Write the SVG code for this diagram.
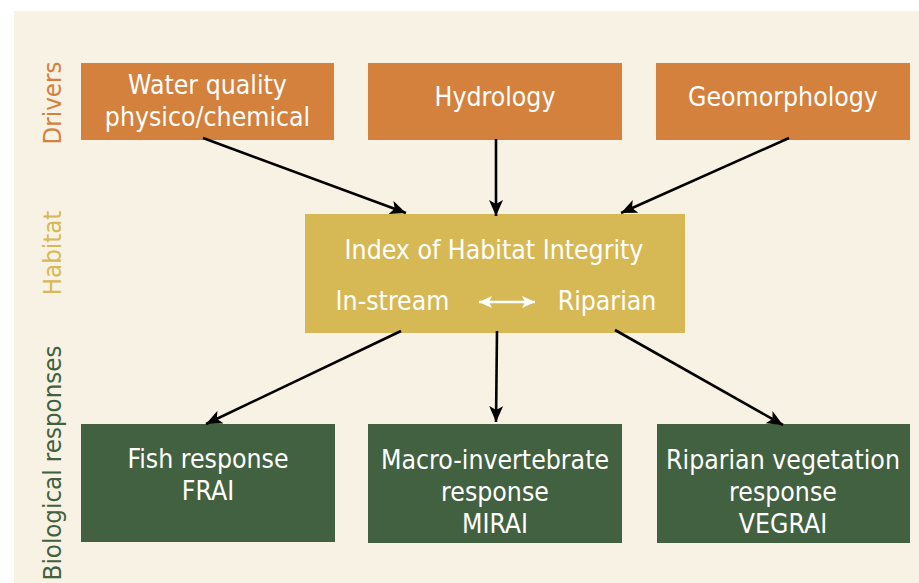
<svg xmlns="http://www.w3.org/2000/svg" width="919" height="583" viewBox="0 0 919 583">
<style>
.t{font-family:"DejaVu Sans Condensed","DejaVu Sans",sans-serif;font-stretch:condensed;font-size:26.4px;fill:#ffffff;text-anchor:middle}
.lab{font-family:"DejaVu Sans Condensed","DejaVu Sans",sans-serif;font-stretch:condensed;font-size:25.6px;text-anchor:middle}
.drv{fill:#d4813d}
.hab{fill:#d6b955}
.bio{fill:#426140}
.c{stroke:#000;stroke-width:2.6;fill:none;marker-end:url(#ah)}
</style>
<defs>
<marker id="ah" markerUnits="userSpaceOnUse" markerWidth="20" markerHeight="16" refX="16" refY="7" orient="auto">
<path d="M0,0 L16,7 L0,14 L4,7 Z" fill="#000"/>
</marker>
<marker id="wh" markerUnits="userSpaceOnUse" markerWidth="16" markerHeight="14" refX="13" refY="6" orient="auto-start-reverse">
<path d="M0,0 L13,6 L0,12 L3,6 Z" fill="#fff"/>
</marker>
</defs>
<rect x="0" y="0" width="919" height="583" fill="#ffffff"/>
<rect x="14" y="11" width="905" height="572" fill="#f8f2e4"/>

<g id="labels">
<text class="lab drv" transform="translate(61,103) rotate(-90)">Drivers</text>
<text class="lab hab" transform="translate(61,253) rotate(-90)">Habitat</text>
<text class="lab bio" transform="translate(61,463) rotate(-90)">Biological responses</text>
</g>

<g id="water">
<rect x="81" y="63" width="253" height="77" class="drv"/>
<text class="t" x="207.5" y="94">Water quality</text>
<text class="t" x="207.5" y="126">physico/chemical</text>
</g>
<g id="hydrology">
<rect x="368" y="63" width="254" height="77" class="drv"/>
<text class="t" x="495" y="106">Hydrology</text>
</g>
<g id="geomorphology">
<rect x="656" y="63" width="254" height="77" class="drv"/>
<text class="t" x="783" y="106">Geomorphology</text>
</g>

<g id="habitat">
<rect x="305" y="214" width="380" height="119" class="hab"/>
<text class="t" x="494" y="259">Index of Habitat Integrity</text>
<text class="t" x="392.5" y="310">In-stream</text>
<text class="t" x="607" y="310">Riparian</text>
<line x1="479" y1="302" x2="535" y2="302" stroke="#fff" stroke-width="2.4" marker-start="url(#wh)" marker-end="url(#wh)"/>
</g>

<g id="fish">
<rect x="81" y="424" width="254" height="118" class="bio"/>
<text class="t" x="208" y="468">Fish response</text>
<text class="t" x="208" y="500">FRAI</text>
</g>
<g id="macro">
<rect x="368" y="424" width="254" height="119" class="bio"/>
<text class="t" x="495" y="469">Macro-invertebrate</text>
<text class="t" x="495" y="501">response</text>
<text class="t" x="495" y="533">MIRAI</text>
</g>
<g id="vegetation">
<rect x="657" y="424" width="253" height="119" class="bio"/>
<text class="t" x="783" y="469">Riparian vegetation</text>
<text class="t" x="783" y="501">response</text>
<text class="t" x="783" y="533">VEGRAI</text>
</g>

<g id="connectors">
<line class="c" x1="203" y1="138" x2="406" y2="213"/>
<line class="c" x1="496" y1="139" x2="496" y2="216"/>
<line class="c" x1="789" y1="138" x2="621" y2="213"/>
<line class="c" x1="401" y1="331" x2="206" y2="424"/>
<line class="c" x1="497" y1="331" x2="496" y2="422"/>
<line class="c" x1="615" y1="330" x2="783" y2="425"/>
</g>
</svg>
